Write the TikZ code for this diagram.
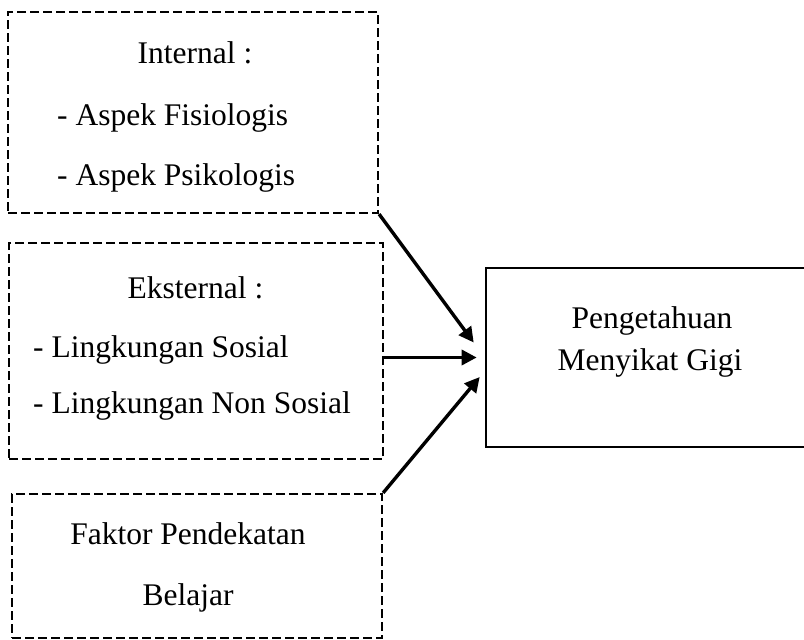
\documentclass[tikz,border=0pt]{standalone}
\usepackage{fontspec}
\setmainfont{Liberation Serif}
\usetikzlibrary{arrows.meta}

\begin{document}
\begin{tikzpicture}[x=1pt, y=-1pt,
    dashbox/.style={draw, line width=2.2pt, dash pattern=on 9pt off 4pt, inner sep=0pt},
    solidbox/.style={draw, line width=2.6pt, inner sep=0pt},
    txt/.style={inner sep=0pt, font=\fontsize{31.5}{38}\selectfont},
    arr/.style={line width=3.4pt, -{Triangle[length=15pt,width=15pt]}}]
        \useasboundingbox (0,0) rectangle (804,640);
        
        % boxes
        \node[dashbox, minimum width=370pt, minimum height=201pt] (internal) at (193,112.5) {};
        \node[dashbox, minimum width=374pt, minimum height=216pt] (eksternal) at (196,351) {};
        \node[dashbox, minimum width=370pt, minimum height=144pt] (faktor) at (197,566) {};
        \node[solidbox, minimum width=320pt, minimum height=179pt] (pengetahuan) at (646,357.5) {};
        
        % texts
        \node[txt, anchor=base] (internal-t) at (195,63) {Internal :};
        \node[txt, anchor=base west] (internal-a) at (57,125) {- Aspek Fisiologis};
        \node[txt, anchor=base west] (internal-b) at (57,185) {- Aspek Psikologis};
        
        \node[txt, anchor=base] (eksternal-t) at (195.5,298) {Eksternal :};
        \node[txt, anchor=base west] (eksternal-a) at (33,357) {- Lingkungan Sosial};
        \node[txt, anchor=base west] (eksternal-b) at (33,413) {- Lingkungan Non Sosial};
        
        \node[txt, anchor=base] (faktor-a) at (188,544) {Faktor Pendekatan};
        \node[txt, anchor=base] (faktor-b) at (188,605) {Belajar};
        
        \node[txt, anchor=base] (pengetahuan-a) at (652,328) {Pengetahuan};
        \node[txt, anchor=base] (pengetahuan-b) at (650,370) {Menyikat Gigi};
        
        % arrows
        \coordinate (in1) at ([xshift=-11pt, yshift=15pt]pengetahuan.west);
        \coordinate (in2) at ([xshift=-8pt]pengetahuan.west);
        \coordinate (in3) at ([xshift=-5pt, yshift=-19.5pt]pengetahuan.west);
        
        \draw[arr] (internal.south east) -- (in1);
        \draw[arr] (eksternal.east |- in2) -- (in2);
        \draw[arr] (faktor.north east) -- (in3);
        
    \end{tikzpicture}
\end{document}
